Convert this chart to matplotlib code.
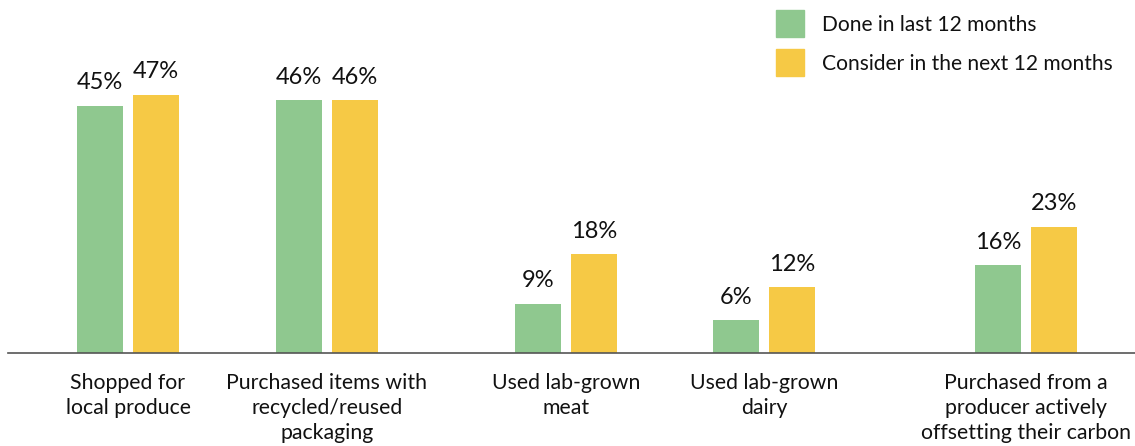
import matplotlib.pyplot as plt
from matplotlib.patches import Rectangle

# Data:
categories = ["Shopped for\nlocal produce",
              "Purchased items with\nrecycled/reused\npackaging",
              "Used lab-grown\nmeat",
              "Used lab-grown\ndairy",
              "Purchased from a\nproducer actively\noffsetting their carbon"]
done_last = [45, 46, 9, 6, 16]
consider_next = [47, 46, 18, 12, 23]
series_names = ["Done in last 12 months", "Consider in the next 12 months"]

# Layout (pixel-like x units):
centers = [128, 327, 566, 764, 1026]
bar_w = 46
offset = 28
green = "#8fc88f"
yellow = "#f6c945"

plt.rcParams['font.family'] = ['Lato', 'DejaVu Sans']

fig = plt.figure(figsize=(11.35, 4.46), dpi=100)
ax = fig.add_axes([8 / 1135, 93 / 446, 1127 / 1135, 353 / 446])
ax.set_xlim(8, 1135)
ax.set_ylim(0, 353 / 5.5)

for i, c in enumerate(centers):
    for val, dx, col in ((done_last[i], -offset, green), (consider_next[i], offset, yellow)):
        ax.bar(c + dx, val, width=bar_w, color=col)
        ax.text(c + dx, val + 2.2, "{}%".format(val), ha="center", va="bottom",
                fontsize=17, color="#111111")
    ax.text(c, -3.6, categories[i], ha="center", va="top", fontsize=15.3,
            color="#111111", linespacing=1.33)

# Axis styling:
for s in ["top", "right", "left"]:
    ax.spines[s].set_visible(False)
ax.spines["bottom"].set_color("#555555")
ax.spines["bottom"].set_linewidth(1.2)
ax.set_xticks([])
ax.set_yticks([])

# Legend drawn by hand:
for j, (name, col) in enumerate(zip(series_names, [green, yellow])):
    y0 = 1 - (10 + 39 * j + 27) / 446
    fig.patches.append(Rectangle((776 / 1135, y0), 28 / 1135, 27 / 446,
                                 transform=fig.transFigure, color=col))
    fig.text(822 / 1135, y0 + 12 / 446, name, va="center", ha="left",
             fontsize=15.1, color="#111111")

fig.savefig("out.png", dpi=100)
